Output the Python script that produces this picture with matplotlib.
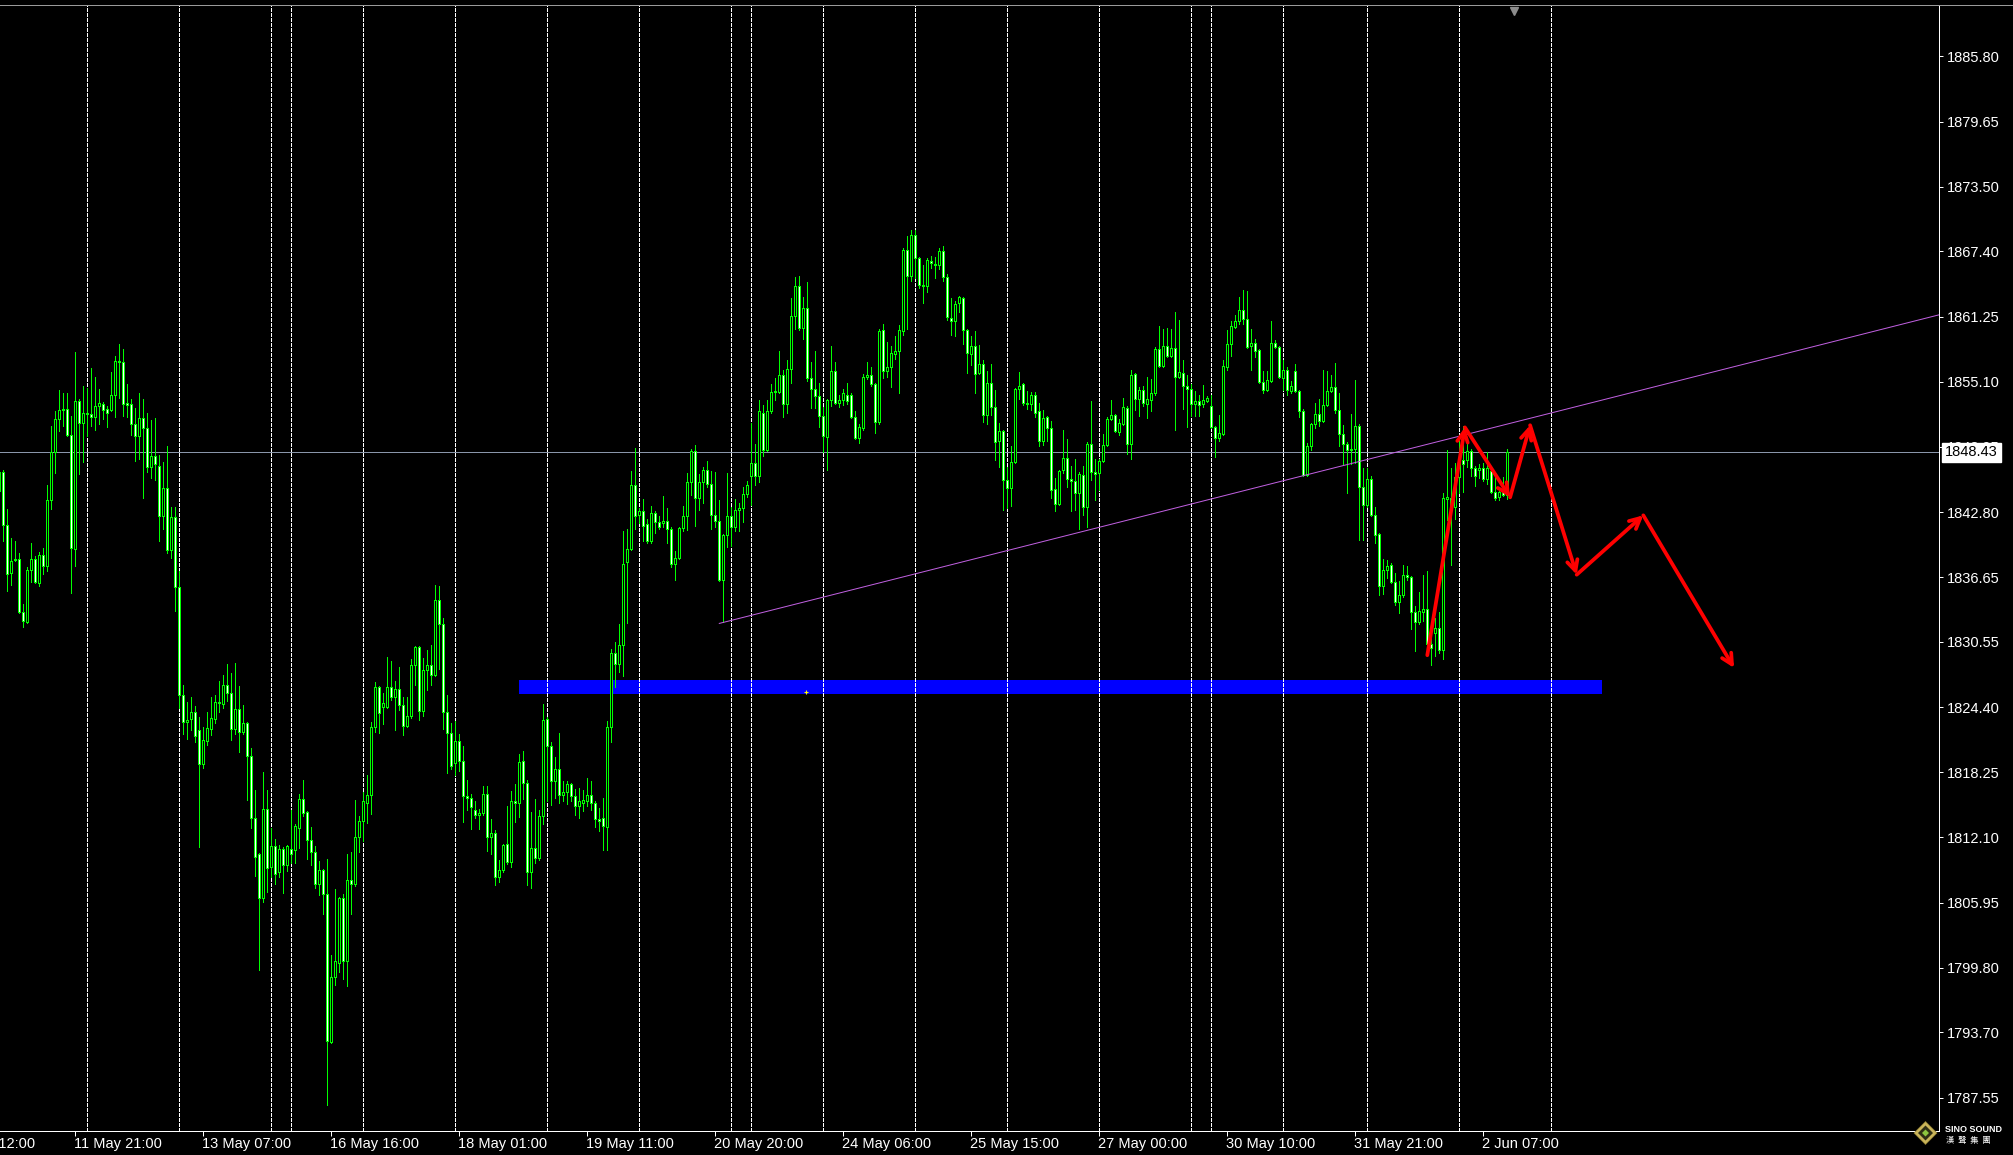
import numpy as np
import matplotlib
matplotlib.use("Agg")
import matplotlib.pyplot as plt
import matplotlib.transforms as mtransforms
from matplotlib.patches import Rectangle, Polygon

plt.rcParams['font.family'] = ['Liberation Sans', 'DejaVu Sans']

# ---------------- data (H1 candles, bar index -1 .. 376) ----------------
first_bar = -1
opens = [
 1844.8, 1846.6, 1841.6, 1837.1, 1838.3, 1838.4, 1833.4, 1832.4, 1837.3, 1838.4,
 1836.1, 1838.8, 1837.7, 1843.9, 1848.5, 1851.6, 1852.4, 1852.5, 1850.1, 1839.3,
 1853.3, 1851.2, 1852.2, 1852.1, 1851.8, 1852.8, 1853.0, 1852.5, 1852.4, 1853.9,
 1857.1, 1857.0, 1853.1, 1853.0, 1851.1, 1850.0, 1851.7, 1850.7, 1847.1, 1848.1,
 1847.2, 1842.4, 1845.1, 1839.2, 1842.3, 1835.7, 1825.5, 1823.0, 1823.3, 1823.9,
 1822.2, 1819.0, 1821.2, 1822.3, 1823.3, 1824.9, 1824.7, 1826.5, 1825.7, 1822.3,
 1824.2, 1822.1, 1822.9, 1819.8, 1813.9, 1810.5, 1806.4, 1814.8, 1809.3, 1811.3,
 1808.8, 1811.0, 1809.5, 1811.0, 1810.9, 1813.0, 1815.7, 1814.5, 1811.9, 1810.7,
 1807.7, 1809.0, 1806.8, 1792.8, 1798.9, 1800.3, 1806.4, 1800.4, 1808.1, 1807.7,
 1812.1, 1813.7, 1815.4, 1816.1, 1822.5, 1826.3, 1824.4, 1824.4, 1826.3, 1825.4,
 1826.1, 1824.6, 1822.6, 1823.6, 1828.4, 1830.1, 1824.0, 1827.9, 1828.4, 1827.4,
 1834.5, 1832.2, 1823.9, 1822.0, 1819.1, 1821.2, 1819.3, 1816.0, 1815.8, 1814.7,
 1814.2, 1814.4, 1816.2, 1812.1, 1812.5, 1808.4, 1809.0, 1811.5, 1809.8, 1815.5,
 1815.4, 1819.3, 1817.2, 1808.8, 1811.1, 1810.2, 1814.1, 1823.3, 1820.7, 1817.4,
 1818.6, 1816.1, 1816.4, 1817.1, 1816.0, 1815.1, 1815.4, 1815.5, 1816.1, 1815.4,
 1813.8, 1813.9, 1813.1, 1822.5, 1829.5, 1828.5, 1830.3, 1838.1, 1839.3, 1845.4,
 1842.5, 1842.9, 1841.7, 1840.1, 1842.7, 1841.9, 1841.8, 1842.0, 1841.2, 1837.9,
 1838.5, 1841.3, 1842.4, 1845.6, 1848.6, 1844.1, 1845.6, 1846.8, 1845.5, 1842.5,
 1842.0, 1836.4, 1840.6, 1842.4, 1841.4, 1843.0, 1843.2, 1844.5, 1846.2, 1847.4,
 1846.2, 1852.2, 1848.7, 1852.3, 1854.1, 1854.1, 1855.7, 1853.0, 1856.3, 1861.3,
 1864.1, 1860.2, 1862.1, 1855.5, 1854.4, 1853.8, 1851.9, 1849.9, 1853.4, 1856.1,
 1853.1, 1853.4, 1853.9, 1853.9, 1851.8, 1849.8, 1850.7, 1855.6, 1855.7, 1854.9,
 1851.3, 1860.0, 1856.1, 1856.5, 1857.7, 1858.0, 1859.9, 1867.5, 1865.1, 1869.0,
 1866.8, 1864.2, 1864.1, 1866.5, 1866.2, 1866.1, 1867.4, 1865.0, 1861.1, 1860.8,
 1862.5, 1863.0, 1860.0, 1857.7, 1858.5, 1855.9, 1856.8, 1852.0, 1855.0, 1852.7,
 1849.5, 1850.5, 1845.8, 1845.1, 1847.5, 1854.4, 1854.9, 1853.1, 1853.0, 1853.9,
 1852.3, 1849.5, 1851.8, 1850.7, 1845.0, 1843.6, 1846.8, 1847.9, 1845.9, 1845.7,
 1844.6, 1846.3, 1843.3, 1849.2, 1846.6, 1846.5, 1847.6, 1849.1, 1851.6, 1852.0,
 1850.4, 1851.1, 1852.6, 1849.2, 1855.8, 1853.5, 1854.3, 1853.0, 1853.4, 1854.0,
 1858.2, 1856.6, 1858.5, 1857.5, 1858.3, 1855.6, 1855.9, 1854.7, 1854.4, 1853.0,
 1853.3, 1853.0, 1853.3, 1852.8, 1850.8, 1849.8, 1850.2, 1856.5, 1858.7, 1860.3,
 1860.8, 1861.9, 1861.0, 1858.5, 1858.8, 1858.1, 1855.1, 1854.3, 1855.2, 1858.8,
 1858.4, 1855.5, 1856.2, 1854.2, 1856.1, 1854.2, 1852.3, 1846.3, 1849.0, 1851.1,
 1852.1, 1851.4, 1852.9, 1854.2, 1854.6, 1852.4, 1850.2, 1849.2, 1848.7, 1848.8,
 1850.9, 1845.2, 1843.5, 1845.9, 1842.5, 1840.7, 1835.8, 1837.3, 1837.8, 1836.2,
 1834.3, 1835.0, 1836.9, 1836.7, 1833.4, 1832.4, 1833.4, 1833.7, 1830.4, 1831.4,
 1831.9, 1829.8, 1844.0, 1844.1, 1843.3, 1846.1, 1847.7, 1847.7, 1848.6, 1847.0,
 1846.8, 1847.0, 1845.9, 1846.7, 1844.7, 1844.2, 1844.9, 1844.4]
highs = [
 1846.8, 1846.8, 1843.1, 1840.4, 1840.1, 1838.9, 1834.1, 1837.6, 1839.9, 1838.7,
 1839.0, 1839.4, 1845.4, 1850.9, 1852.3, 1854.3, 1854.0, 1854.0, 1851.9, 1857.9,
 1853.5, 1854.7, 1854.5, 1856.4, 1855.6, 1854.4, 1853.2, 1852.8, 1856.0, 1857.5,
 1858.7, 1858.2, 1854.9, 1853.5, 1852.6, 1854.0, 1853.5, 1852.2, 1851.5, 1851.7,
 1848.2, 1847.5, 1849.0, 1843.3, 1843.3, 1837.2, 1826.5, 1824.9, 1825.4, 1824.5,
 1823.5, 1822.5, 1823.9, 1825.4, 1825.5, 1826.9, 1827.4, 1828.5, 1827.6, 1828.6,
 1826.4, 1824.6, 1823.0, 1820.5, 1816.6, 1810.6, 1818.3, 1816.6, 1813.0, 1812.0,
 1811.4, 1811.2, 1811.4, 1814.7, 1813.4, 1816.2, 1817.5, 1814.6, 1813.1, 1811.3,
 1809.9, 1809.1, 1810.1, 1801.0, 1807.2, 1806.5, 1806.8, 1810.5, 1810.7, 1815.6,
 1814.1, 1816.4, 1818.0, 1823.0, 1826.8, 1826.4, 1825.7, 1829.1, 1828.8, 1826.9,
 1828.2, 1825.4, 1825.4, 1828.9, 1830.2, 1830.2, 1829.0, 1829.8, 1830.3, 1835.9,
 1835.8, 1832.8, 1825.5, 1822.9, 1823.1, 1821.9, 1820.7, 1817.5, 1816.2, 1815.5,
 1814.8, 1817.0, 1817.0, 1813.8, 1812.8, 1810.0, 1811.5, 1815.1, 1816.5, 1817.1,
 1820.0, 1820.3, 1817.5, 1814.5, 1815.7, 1814.7, 1824.7, 1823.5, 1821.1, 1819.7,
 1822.0, 1817.4, 1817.4, 1817.2, 1816.7, 1816.8, 1816.6, 1817.7, 1817.4, 1815.5,
 1814.9, 1815.8, 1823.1, 1829.9, 1830.5, 1832.2, 1841.0, 1841.2, 1846.7, 1848.9,
 1843.2, 1844.0, 1842.2, 1843.4, 1842.9, 1842.4, 1844.3, 1843.2, 1841.4, 1839.1,
 1841.4, 1843.4, 1846.5, 1848.8, 1849.1, 1846.4, 1847.1, 1847.6, 1846.7, 1846.6,
 1843.9, 1840.7, 1846.5, 1843.3, 1844.0, 1843.7, 1845.2, 1845.7, 1851.2, 1849.2,
 1853.4, 1852.9, 1853.4, 1854.9, 1855.5, 1858.0, 1856.2, 1857.2, 1863.0, 1865.0,
 1865.1, 1863.1, 1864.5, 1857.0, 1858.0, 1855.0, 1852.7, 1853.5, 1858.5, 1857.0,
 1853.9, 1854.4, 1855.0, 1854.0, 1852.3, 1851.1, 1855.8, 1857.0, 1856.5, 1855.0,
 1860.1, 1860.6, 1858.9, 1858.5, 1859.4, 1860.5, 1867.7, 1868.9, 1869.4, 1869.4,
 1866.9, 1866.1, 1866.8, 1867.0, 1866.9, 1867.7, 1867.9, 1865.3, 1863.0, 1862.7,
 1863.2, 1863.1, 1860.1, 1859.4, 1859.9, 1858.6, 1857.2, 1856.1, 1856.8, 1854.3,
 1851.2, 1850.6, 1847.1, 1849.0, 1854.5, 1856.0, 1855.0, 1854.2, 1854.1, 1854.1,
 1853.1, 1852.4, 1851.9, 1851.4, 1846.0, 1846.8, 1850.6, 1849.7, 1847.2, 1847.8,
 1846.6, 1847.2, 1849.4, 1853.3, 1847.8, 1847.8, 1850.2, 1851.8, 1853.4, 1852.1,
 1851.6, 1853.6, 1852.8, 1856.2, 1855.9, 1854.6, 1854.7, 1855.6, 1855.4, 1858.4,
 1860.4, 1860.1, 1860.2, 1860.1, 1861.7, 1860.9, 1857.2, 1855.7, 1854.9, 1854.2,
 1853.9, 1854.8, 1853.8, 1853.9, 1850.9, 1852.0, 1857.2, 1860.0, 1860.8, 1861.4,
 1863.1, 1863.8, 1863.7, 1860.1, 1859.1, 1858.2, 1856.1, 1856.1, 1860.8, 1859.0,
 1858.5, 1857.2, 1856.5, 1855.2, 1856.8, 1854.3, 1852.5, 1849.3, 1851.2, 1853.1,
 1853.5, 1856.2, 1856.1, 1855.7, 1856.9, 1854.0, 1851.0, 1849.4, 1852.1, 1855.3,
 1851.1, 1847.0, 1847.0, 1846.2, 1843.3, 1840.8, 1838.4, 1838.3, 1838.0, 1837.1,
 1836.3, 1837.8, 1837.7, 1836.8, 1833.9, 1835.3, 1836.9, 1837.2, 1831.4, 1832.8,
 1833.4, 1844.6, 1848.7, 1847.0, 1847.4, 1850.1, 1850.9, 1849.3, 1848.8, 1847.2,
 1847.3, 1847.4, 1848.5, 1847.0, 1846.1, 1845.2, 1846.1, 1848.8]
lows = [
 1844.6, 1840.1, 1835.4, 1835.9, 1838.2, 1833.3, 1832.0, 1832.3, 1836.2, 1836.1,
 1835.8, 1837.0, 1837.2, 1843.1, 1846.5, 1850.5, 1850.9, 1850.0, 1835.2, 1837.7,
 1846.4, 1847.5, 1850.0, 1850.9, 1850.6, 1851.1, 1851.6, 1850.8, 1852.3, 1851.8,
 1853.6, 1851.9, 1851.8, 1850.1, 1847.6, 1847.8, 1844.1, 1846.6, 1846.0, 1845.8,
 1840.1, 1841.2, 1838.9, 1838.5, 1833.5, 1824.3, 1821.9, 1821.4, 1822.2, 1821.1,
 1811.2, 1818.7, 1820.8, 1821.8, 1822.9, 1823.9, 1824.3, 1825.0, 1821.3, 1821.9,
 1820.2, 1821.9, 1815.6, 1813.0, 1808.5, 1799.6, 1806.0, 1807.0, 1808.4, 1807.7,
 1808.4, 1806.9, 1808.9, 1809.7, 1809.7, 1811.1, 1814.1, 1810.1, 1809.5, 1807.3,
 1806.7, 1804.9, 1786.9, 1792.7, 1798.2, 1799.4, 1798.7, 1798.1, 1804.9, 1807.5,
 1810.7, 1811.8, 1813.5, 1814.3, 1822.1, 1822.0, 1822.8, 1824.3, 1825.1, 1822.2,
 1824.1, 1821.8, 1822.5, 1823.4, 1826.5, 1823.2, 1823.6, 1826.0, 1826.5, 1827.3,
 1828.0, 1822.3, 1818.2, 1818.6, 1818.0, 1818.4, 1813.6, 1814.7, 1812.9, 1813.9,
 1812.9, 1814.2, 1810.8, 1810.5, 1807.6, 1807.9, 1808.8, 1809.6, 1809.3, 1813.6,
 1814.0, 1815.7, 1807.6, 1807.3, 1809.7, 1810.0, 1813.4, 1815.5, 1815.2, 1815.8,
 1815.4, 1815.5, 1815.3, 1815.5, 1814.2, 1813.9, 1814.6, 1815.1, 1814.7, 1813.1,
 1812.7, 1810.9, 1810.9, 1821.1, 1826.3, 1827.7, 1827.3, 1832.3, 1839.2, 1841.2,
 1841.8, 1840.1, 1839.9, 1839.9, 1840.8, 1841.2, 1841.4, 1839.9, 1837.6, 1836.4,
 1838.4, 1841.0, 1841.1, 1844.4, 1841.5, 1843.0, 1843.7, 1845.2, 1841.2, 1841.4,
 1836.3, 1832.4, 1839.5, 1839.6, 1841.0, 1841.0, 1841.9, 1844.2, 1843.5, 1845.4,
 1845.6, 1848.1, 1848.6, 1852.2, 1853.4, 1854.0, 1851.8, 1852.2, 1855.0, 1860.1,
 1860.0, 1859.1, 1855.2, 1852.6, 1852.6, 1850.8, 1848.5, 1846.8, 1852.8, 1853.0,
 1852.7, 1852.9, 1853.0, 1851.7, 1849.7, 1849.3, 1850.6, 1855.4, 1854.7, 1850.3,
 1851.1, 1855.5, 1855.6, 1854.6, 1857.3, 1854.0, 1859.5, 1860.1, 1864.6, 1864.9,
 1864.0, 1862.5, 1863.6, 1865.8, 1864.9, 1865.7, 1864.6, 1860.9, 1859.5, 1859.4,
 1861.7, 1858.7, 1855.9, 1856.7, 1854.0, 1855.8, 1851.3, 1851.1, 1852.0, 1847.7,
 1847.1, 1843.0, 1843.2, 1843.4, 1847.4, 1853.5, 1852.9, 1852.5, 1852.4, 1851.8,
 1849.0, 1849.1, 1849.5, 1844.1, 1842.9, 1843.5, 1846.5, 1845.2, 1842.9, 1843.0,
 1841.2, 1842.5, 1841.4, 1845.8, 1843.9, 1844.9, 1847.5, 1849.0, 1851.5, 1850.4,
 1850.1, 1851.0, 1848.3, 1847.8, 1852.4, 1851.9, 1852.8, 1851.7, 1852.3, 1853.9,
 1856.5, 1856.5, 1857.4, 1857.4, 1850.6, 1855.5, 1852.5, 1850.8, 1851.9, 1851.9,
 1851.9, 1852.7, 1853.2, 1850.7, 1848.0, 1849.5, 1850.1, 1856.2, 1857.5, 1860.2,
 1860.6, 1860.6, 1858.3, 1856.2, 1857.4, 1855.0, 1854.0, 1854.2, 1855.1, 1858.3,
 1855.5, 1854.3, 1853.9, 1854.0, 1854.1, 1851.8, 1846.2, 1846.2, 1848.7, 1850.7,
 1850.9, 1851.3, 1852.8, 1854.1, 1852.2, 1849.0, 1847.3, 1844.6, 1847.3, 1847.4,
 1840.2, 1840.2, 1843.3, 1842.4, 1839.9, 1835.0, 1835.1, 1836.6, 1836.1, 1834.0,
 1833.3, 1834.8, 1836.4, 1831.8, 1829.7, 1832.2, 1832.5, 1830.0, 1828.4, 1829.2,
 1829.5, 1828.9, 1842.1, 1837.8, 1842.2, 1844.6, 1844.7, 1847.1, 1846.2, 1845.3,
 1846.0, 1845.7, 1845.5, 1844.6, 1843.9, 1843.9, 1844.3, 1844.0]
closes = [
 1846.6, 1841.6, 1837.0, 1838.2, 1838.4, 1833.4, 1832.5, 1837.3, 1838.4, 1836.2,
 1838.8, 1837.7, 1843.9, 1848.5, 1851.6, 1852.4, 1852.5, 1850.1, 1839.4, 1853.3,
 1851.2, 1852.2, 1852.1, 1851.8, 1852.8, 1853.1, 1852.4, 1852.2, 1853.9, 1857.1,
 1857.0, 1853.0, 1852.9, 1851.1, 1850.0, 1851.7, 1850.7, 1847.1, 1848.1, 1847.3,
 1842.4, 1845.1, 1839.2, 1842.3, 1835.7, 1825.5, 1823.0, 1823.2, 1823.9, 1821.7,
 1819.0, 1821.3, 1822.4, 1823.4, 1824.9, 1824.8, 1826.5, 1825.7, 1822.3, 1824.2,
 1822.1, 1822.9, 1819.8, 1813.9, 1810.3, 1806.4, 1814.8, 1809.2, 1811.3, 1808.7,
 1811.0, 1809.5, 1811.3, 1810.5, 1813.2, 1815.7, 1814.4, 1811.9, 1810.7, 1807.7,
 1809.0, 1806.8, 1792.9, 1798.9, 1800.4, 1806.4, 1800.4, 1808.1, 1807.7, 1812.1,
 1813.7, 1815.5, 1816.1, 1822.5, 1826.3, 1823.8, 1824.8, 1826.3, 1825.4, 1826.1,
 1824.6, 1822.6, 1823.6, 1828.4, 1830.1, 1824.0, 1827.9, 1828.4, 1827.4, 1834.5,
 1832.2, 1823.9, 1822.0, 1818.8, 1821.2, 1819.3, 1816.0, 1815.8, 1815.0, 1814.2,
 1814.4, 1816.2, 1812.1, 1812.5, 1808.4, 1809.0, 1811.4, 1809.8, 1815.5, 1815.4,
 1819.2, 1817.2, 1808.8, 1811.1, 1810.2, 1814.1, 1823.2, 1820.7, 1817.4, 1818.6,
 1816.1, 1816.4, 1817.1, 1816.0, 1815.1, 1815.5, 1815.6, 1816.1, 1815.4, 1813.8,
 1813.7, 1813.2, 1822.5, 1829.5, 1828.5, 1830.3, 1837.9, 1839.3, 1845.4, 1842.4,
 1842.9, 1841.5, 1840.1, 1842.7, 1841.9, 1841.4, 1842.0, 1841.2, 1837.9, 1838.5,
 1841.3, 1842.4, 1845.6, 1848.6, 1844.1, 1845.6, 1846.8, 1845.5, 1842.5, 1842.0,
 1836.4, 1840.6, 1842.4, 1841.4, 1843.0, 1843.2, 1844.5, 1845.4, 1847.4, 1846.2,
 1852.3, 1848.7, 1852.3, 1854.1, 1854.2, 1855.7, 1853.0, 1856.3, 1861.3, 1864.1,
 1860.2, 1862.1, 1855.5, 1854.4, 1853.8, 1851.9, 1850.0, 1853.4, 1856.1, 1853.1,
 1853.4, 1854.0, 1853.3, 1851.8, 1849.8, 1850.8, 1855.6, 1855.7, 1854.9, 1851.3,
 1859.9, 1856.1, 1856.5, 1857.8, 1858.0, 1860.0, 1867.5, 1865.1, 1869.0, 1866.8,
 1864.2, 1864.1, 1866.6, 1866.3, 1866.1, 1867.4, 1865.0, 1861.2, 1860.8, 1862.4,
 1863.1, 1860.0, 1857.8, 1858.5, 1855.8, 1856.8, 1852.0, 1855.0, 1852.7, 1849.4,
 1850.5, 1845.8, 1845.1, 1847.5, 1854.4, 1854.7, 1853.1, 1853.0, 1853.9, 1852.2,
 1849.5, 1851.7, 1850.7, 1844.9, 1843.6, 1846.7, 1847.9, 1845.9, 1845.7, 1844.6,
 1846.4, 1843.3, 1849.2, 1846.6, 1846.4, 1847.6, 1849.1, 1851.6, 1852.0, 1850.5,
 1851.2, 1852.7, 1849.2, 1855.7, 1853.5, 1854.3, 1853.1, 1853.5, 1854.0, 1858.2,
 1856.6, 1858.5, 1857.5, 1858.3, 1855.6, 1856.0, 1854.7, 1854.4, 1853.0, 1853.3,
 1852.9, 1853.4, 1853.6, 1850.8, 1849.8, 1850.3, 1856.6, 1858.7, 1860.4, 1860.8,
 1861.9, 1861.0, 1858.4, 1858.8, 1858.0, 1855.1, 1854.3, 1855.3, 1858.8, 1858.4,
 1855.6, 1856.2, 1854.3, 1854.7, 1854.2, 1852.3, 1846.3, 1849.0, 1851.1, 1852.1,
 1851.4, 1852.9, 1854.2, 1854.6, 1852.4, 1850.2, 1849.2, 1848.7, 1848.8, 1850.9,
 1845.2, 1843.5, 1845.9, 1842.5, 1840.6, 1835.8, 1837.3, 1837.7, 1836.2, 1834.3,
 1835.0, 1836.9, 1836.7, 1833.4, 1832.4, 1833.5, 1833.7, 1830.4, 1830.0, 1831.9,
 1829.8, 1844.1, 1844.2, 1843.3, 1846.1, 1847.7, 1847.3, 1848.6, 1847.0, 1846.2,
 1847.0, 1845.9, 1847.0, 1844.7, 1844.1, 1844.7, 1844.4, 1848.43]

separator_bars = [21, 44, 67, 72, 90, 113, 136, 159, 182, 187, 205, 228, 251,
                  274, 297, 302, 320, 341, 364, 387]
time_tick_bars = [-14, 18, 50, 82, 114, 146, 178, 210, 242, 274, 306, 338, 370]
time_tick_labels = ["10 May 12:00", "11 May 21:00", "13 May 07:00", "16 May 16:00",
                    "18 May 01:00", "19 May 11:00", "20 May 20:00", "24 May 06:00",
                    "25 May 15:00", "27 May 00:00", "30 May 10:00", "31 May 21:00",
                    "2 Jun 07:00"]
price_ticks = [1885.80, 1879.65, 1873.50, 1867.40, 1861.25, 1855.10, 1848.95,
               1842.80, 1836.65, 1830.55, 1824.40, 1818.25, 1812.10, 1805.95,
               1799.80, 1793.70, 1787.55]
last_price = 1848.43

trend_start_bar = 179.0
trend_start_price = 1832.3
trend_slope = 0.0955          # price per bar

zone_bars = [128.9, 399.7]
zone_prices = [1825.68, 1826.94]

arrow_bars = [356.0, 365.4, 376.7, 381.7, 393.35, 410.0, 432.7]
arrow_prices = [1829.3, 1850.8, 1844.2, 1851.0, 1836.9, 1842.5, 1828.1]

# ---------------- figure ----------------
W, H = 2013, 1155
fig = plt.figure(figsize=(W / 100, H / 100), dpi=100, facecolor='black')
ax_left, ax_right, ax_top, ax_bottom = 0.0, 1938.6, 5.0, 1131.0
ax = fig.add_axes([ax_left / W, 1 - ax_bottom / H, (ax_right - ax_left) / W,
                   (ax_bottom - ax_top) / H])
ax.set_facecolor('black')
xmin, xmax = -0.825, 483.825
ymin, ymax = 1784.40, 1890.66

o = np.array(opens); c = np.array(closes)
hi = np.maximum(np.array(highs), np.maximum(o, c))
lo = np.minimum(np.array(lows), np.minimum(o, c))
x = np.arange(first_bar, first_bar + len(o))

LIME = '#00ff00'
PX = 0.72  # one pixel in points

# blue zone (background object)
ax.add_patch(Rectangle((zone_bars[0], zone_prices[0]), zone_bars[1] - zone_bars[0],
                       zone_prices[1] - zone_prices[0], facecolor='#0000ff',
                       edgecolor='none', zorder=0.5))
ax.plot([200.75], [1825.82], marker='+', ms=3, color='yellow', mew=0.8, zorder=0.6)

# period separators
ax.vlines(separator_bars, ymin, ymax, colors='white', linewidth=PX,
          linestyles=(0, (3, 2)), zorder=1, antialiased=False)

# bid line
ax.axhline(last_price, color='#8a96aa', linewidth=PX, zorder=1.5)

# candles
ax.vlines(x, lo, hi, colors=LIME, linewidth=PX, zorder=3, antialiased=False)
bull = c >= o
face = np.where(bull, 'black', 'white')
ax.bar(x, np.abs(c - o), bottom=np.minimum(o, c), width=0.5, color=face,
       edgecolor=LIME, linewidth=PX, zorder=3.5, antialiased=False)

# trend line (ray to right edge)
ax.plot([trend_start_bar, xmax],
        [trend_start_price, trend_start_price + trend_slope * (xmax - trend_start_bar)],
        color='#c060e0', linewidth=PX, zorder=4)

# red arrows
for i in range(len(arrow_bars) - 1):
    ax.annotate('', xy=(arrow_bars[i + 1], arrow_prices[i + 1]),
                xytext=(arrow_bars[i], arrow_prices[i]),
                arrowprops=dict(arrowstyle='->,head_length=0.75,head_width=0.38',
                                color='#ff0000', lw=2.7, shrinkA=0, shrinkB=0),
                zorder=5)

# axes frame
ax.spines['left'].set_visible(False)
for s in ['right', 'bottom']:
    ax.spines[s].set_color('white')
    ax.spines[s].set_linewidth(PX)
ax.spines['top'].set_color('#9a9a9a')
ax.spines['top'].set_linewidth(PX)

# y axis on the right
ax.yaxis.tick_right()
ax.set_yticks(price_ticks)
ax.set_yticklabels([f"{p:.2f}" for p in price_ticks])
ax.tick_params(axis='y', direction='out', length=3.2, width=PX, colors='white',
               labelsize=10.5, pad=2.5)

# x axis ticks and labels
ax.set_xticks(time_tick_bars)
ax.tick_params(axis='x', direction='out', length=3.6, width=PX, colors='white',
               labelbottom=False)

# fix the view AFTER setting ticks (set_ticks can widen the limits)
ax.set_xlim(xmin, xmax)
ax.set_ylim(ymin, ymax)

tx = mtransforms.blended_transform_factory(ax.transData, ax.transAxes)
for b, lab in zip(time_tick_bars, time_tick_labels):
    ax.text(b - 0.4, -0.0118, lab, transform=tx, ha='left', va='center',
            color='white', fontsize=10.5, clip_on=False)

# last price box
ty = mtransforms.blended_transform_factory(ax.transAxes, ax.transData)
ax.text(1.0 + 6.5 / (ax_right - ax_left), last_price, f"{last_price:.2f}", transform=ty,
        ha='left', va='center', color='black', fontsize=10.5, zorder=10, clip_on=False,
        bbox=dict(boxstyle='square,pad=0.2', facecolor='white', edgecolor='white'))

# chart-shift marker at top
ax.plot([377.6], [0.995], transform=tx, marker='v', ms=6, color='#8c8c8c',
        clip_on=False, zorder=6)
ax.set_xlim(xmin, xmax)
ax.set_ylim(ymin, ymax)

# top border line across whole figure
fig.add_artist(plt.Line2D([0, 1], [1 - 4.5 / H, 1 - 4.5 / H], transform=fig.transFigure,
                          color='#9a9a9a', linewidth=PX))

# logo (bottom right)
cx, cy, r = 1925.5, 1133.0, 11.5
def fpt(px, py):
    return (px / W, 1 - py / H)
fig.add_artist(Polygon([fpt(cx, cy - r), fpt(cx + r, cy), fpt(cx, cy + r), fpt(cx - r, cy)],
                       closed=True, transform=fig.transFigure, facecolor='#c9b45a',
                       edgecolor='#8a7a30', linewidth=0.5))
r2 = 7.5
fig.add_artist(Polygon([fpt(cx, cy - r2), fpt(cx + r2, cy), fpt(cx, cy + r2), fpt(cx - r2, cy)],
                       closed=True, transform=fig.transFigure, facecolor='#2e2e14',
                       edgecolor='none'))
r3 = 3.5
fig.add_artist(Polygon([fpt(cx, cy - r3), fpt(cx + r3, cy), fpt(cx, cy + r3), fpt(cx - r3, cy)],
                       closed=True, transform=fig.transFigure, facecolor='#8cc63f',
                       edgecolor='none'))
fig.text(1945 / W, 1 - 1129 / H, "SINO SOUND", color='white', fontsize=6.5,
         fontweight='bold', ha='left', va='center', family=['Liberation Sans', 'DejaVu Sans'])
fig.text(1946 / W, 1 - 1141 / H, "漢  聲  集  團", color='white', fontsize=6,
         ha='left', va='center', family=['Noto Sans CJK TC', 'DejaVu Sans'])

fig.savefig('out.png', dpi=100, facecolor='black')
